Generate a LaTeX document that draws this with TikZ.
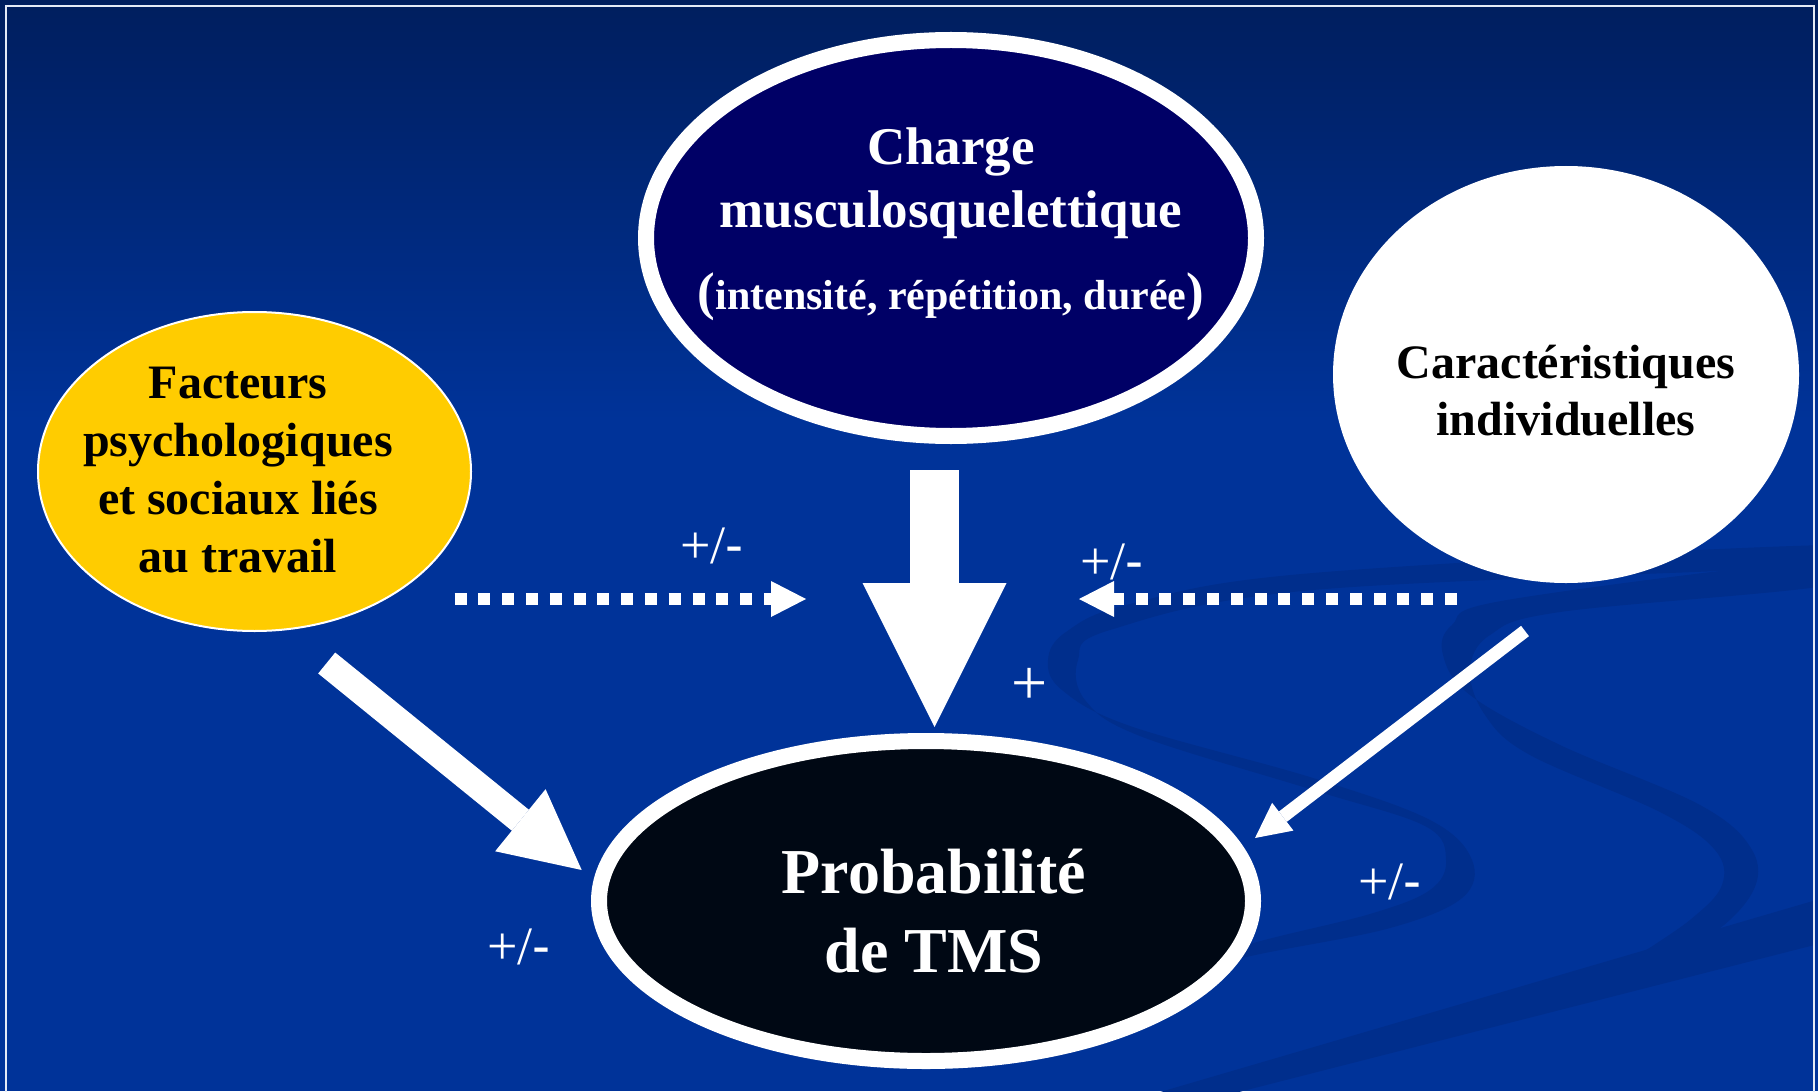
\documentclass[tikz,border=0pt]{standalone}
\usepackage{fontspec}
\setmainfont{Liberation Serif}
\newfontfamily\hyphfont{Liberation Sans}
\usetikzlibrary{arrows.meta,shapes.geometric,calc}

\definecolor{bgtop}{RGB}{0,30,94}
\definecolor{bgmain}{RGB}{0,51,153}
\definecolor{swoosh}{RGB}{0,46,140}
\definecolor{chargefill}{RGB}{0,0,102}
\definecolor{probfill}{RGB}{0,8,20}
\definecolor{jaune}{RGB}{255,204,0}
\definecolor{framec}{RGB}{228,234,246}

\begin{document}
\begin{tikzpicture}[x=0.5pt,y=-0.5pt,
  oval/.style={ellipse, inner sep=0pt, outer sep=0pt},
  ovaltext/.style={align=center, inner sep=0pt, font=\bfseries},
  pm/.style={text=white, inner sep=0pt, font=\fontsize{27}{30}\selectfont},
  bigarrow/.style={white, line width=24.5pt, -{Triangle[length=72pt,width=72pt,line width=0pt]}},
  thickarrow/.style={white, line width=13.5pt, -{Triangle[length=39.5pt,width=40pt,line width=0pt]}},
  thinarrow/.style={white, line width=6.5pt, -{Triangle[length=17.5pt,width=17.5pt,line width=0pt]}},
  dotarrow/.style={white, line width=6pt, dash pattern=on 6pt off 5.9pt, -{Triangle[length=17.5pt,width=18pt,line width=0pt]}},
  swooshfill/.style={fill=swoosh}
]
\useasboundingbox (0,0) rectangle (1818,1091);
% background
\fill[bgmain] (0,0) rectangle (1818,1091);
\shade[top color=bgtop, bottom color=bgmain] (0,0) rectangle (1818,420);

% decorative swooshes
\begin{scope}
\clip (7,7) rectangle (1813,1091);
\fill[swooshfill] plot[smooth cycle, tension=0.6] coordinates {
 (1830,545) (1313,573) (1130,604) (1066,632) (1048,660) (1062,690) (1130,726)
 (1313,778) (1430,820) (1472,860) (1462,898) (1390,928) (1260,954) (1150,978)
 (1250,944) (1370,914) (1430,890) (1446,860) (1425,826) (1313,790) (1140,736)
 (1085,700) (1078,660) (1110,630) (1313,590) (1830,565)};
\fill[swooshfill] plot[smooth cycle, tension=0.6] coordinates {
 (1830,560) (1507,600) (1452,625) (1443,655) (1470,695) (1560,745) (1700,805)
 (1752,850) (1752,893) (1704,939) (1623,968)
 (1690,920) (1722,885) (1715,850) (1660,812) (1530,755) (1485,715) (1470,670)
 (1490,635) (1560,612) (1830,585)};
\fill[swooshfill] (1830,896) -- (1830,941) -- (1227,1095) -- (1150,1095) -- cycle;
\end{scope}

% frame
\draw[framec, line width=1pt] (6,1095) -- (6,6) -- (1814,6) -- (1814,1095);

% ellipses
\node[oval, draw=white, line width=8pt, fill=chargefill, minimum width=305pt, minimum height=198pt] (charge) at (951,238) {};
\node[oval, draw=white, line width=1pt, fill=jaune, minimum width=216.5pt, minimum height=159.5pt] (fact) at (254.5,471.5) {};
\node[oval, fill=white, minimum width=233pt, minimum height=208.5pt] (cara) at (1566,374.5) {};
\node[oval, draw=white, line width=8pt, fill=probfill, minimum width=327pt, minimum height=160pt] (prob) at (926,901) {};

% texts
\node[ovaltext, text=white, font=\bfseries\fontsize{26.5}{31.5}\selectfont] (chargeT) at (951,224)
  {Charge\\musculosquelettique\\[9.5pt]{\fontsize{26.5}{31.5}\selectfont(}{\fontsize{21}{31.5}\selectfont intensité, répétition, durée}{\fontsize{26.5}{31.5}\selectfont)}};
\node[ovaltext, text=black, font=\bfseries\fontsize{24}{29}\selectfont] (factT) at (238,470)
  {Facteurs\\psychologiques\\et sociaux liés\\au travail};
\node[ovaltext, text=black, font=\bfseries\fontsize{24}{28.5}\selectfont] (caraT) at (1566,391)
  {Caractéristiques\\individuelles};
\node[ovaltext, text=white, font=\bfseries\fontsize{32}{39.5}\selectfont] (probT) at (934,911)
  {Probabilité\\de TMS};

% arrows
\coordinate (bigS) at (934.5,470);
\coordinate (bigE) at (934.5,727);
\draw[bigarrow] (bigS) -- (bigE);

\coordinate (lS) at (326.7,663);
\coordinate (lE) at (581.7,870);
\draw[thickarrow] (lS) -- (lE);

\coordinate (rS) at (1525,631);
\coordinate (rE) at (1255,838);
\draw[thinarrow] (rS) -- (rE);

\coordinate (dlS) at (454.5,599);
\coordinate (dlE) at (806,599);
\draw[dotarrow] (dlS) -- (dlE);

\coordinate (drS) at (1457,599);
\coordinate (drE) at (1079,599);
\draw[dotarrow] (drS) -- (drE);

% labels
\node[pm] (l1) at (712,546) {+/{\hyphfont -}};
\node[pm] (l2) at (1112,562) {+/{\hyphfont -}};
\node[pm, font=\fontsize{32}{36}\selectfont] (l3) at (1030,686) {+};
\node[pm] (l4) at (1390,882) {+/{\hyphfont -}};
\node[pm] (l5) at (519,947) {+/{\hyphfont -}};
\end{tikzpicture}
\end{document}
